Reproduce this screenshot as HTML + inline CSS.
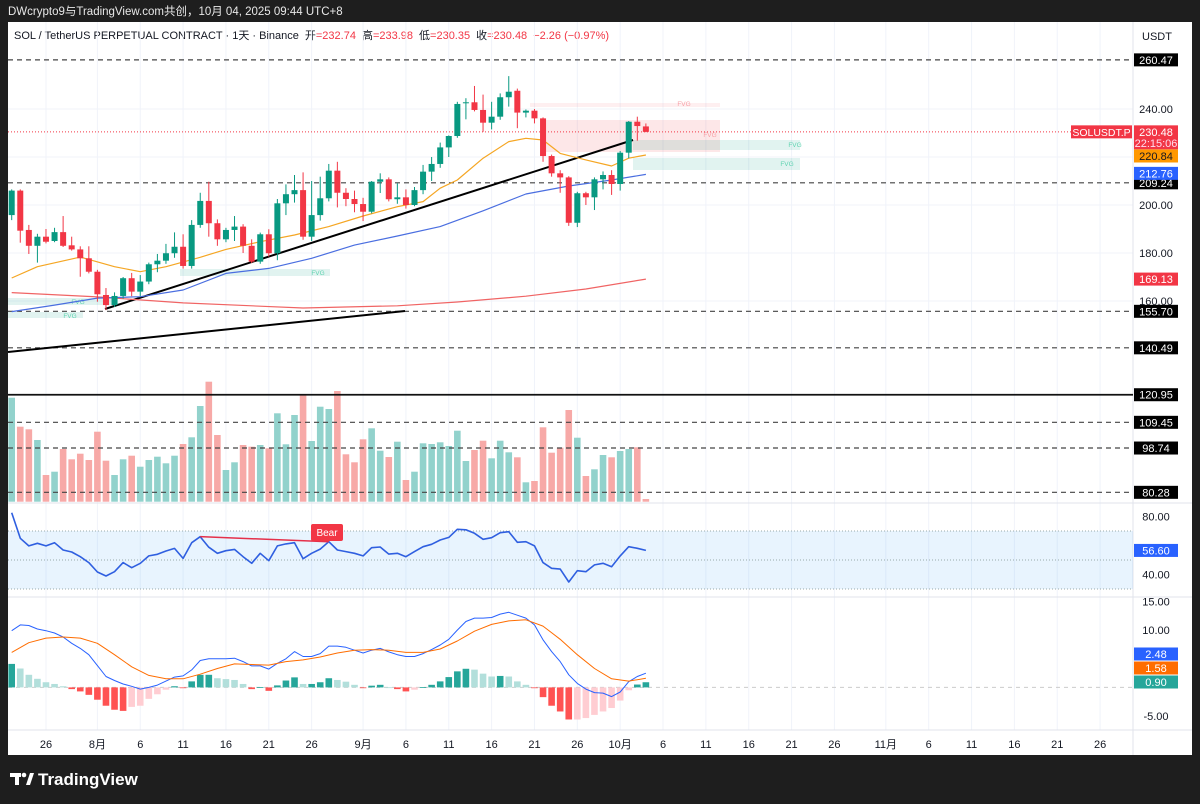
<!DOCTYPE html>
<html><head><meta charset="utf-8"><style>
html,body{margin:0;padding:0;background:#1e1e1e;}
svg{display:block;font-family:"Liberation Sans","Noto Sans CJK SC",sans-serif;}
</style></head><body>
<svg id="c" width="1200" height="804" viewBox="0 0 1200 804" xmlns="http://www.w3.org/2000/svg">
<rect x="0" y="0" width="1200" height="804" fill="#1e1e1e"/>
<rect x="8" y="22" width="1184" height="733" fill="#ffffff"/>
<text x="8" y="15" font-size="11.5" fill="#e8e8e8">DWcrypto9与TradingView.com共创，10月 04, 2025 09:44 UTC+8</text>
<text x="14" y="39" font-size="11" fill="#131722">SOL / TetherUS PERPETUAL CONTRACT · 1天 · Binance<tspan dx="6">开</tspan><tspan fill="#f23645">=232.74</tspan><tspan dx="6">高</tspan><tspan fill="#f23645">=233.98</tspan><tspan dx="6">低</tspan><tspan fill="#f23645">=230.35</tspan><tspan dx="6">收</tspan><tspan fill="#f23645">=230.48</tspan><tspan dx="6" fill="#f23645">−2.26 (−0.97%)</tspan></text>
<text x="1157" y="40" font-size="11" fill="#131722" text-anchor="middle">USDT</text>
<g id="grid"></g>
<g id="zones"></g>
<g id="vol"></g>
<g id="hlines"></g>
<g id="ma"></g>
<g id="candles"></g>
<g id="rsi"></g>
<g id="macd"></g>
<g id="axis"></g>
<rect x="0" y="755" width="1200" height="49" fill="#1e1e1e"/>
<g>
<rect x="10" y="773" width="11" height="4" fill="#fff"/>
<rect x="15" y="773" width="4" height="12" fill="#fff"/>
<circle cx="24" cy="775" r="2.3" fill="#fff"/>
<polygon points="26,785 30,773 34,773 30,785" fill="#fff"/>
<text x="38" y="785" font-size="17" font-weight="bold" fill="#ffffff">TradingView</text>
</g>
</svg>
<script>
// ---------- data ----------
const opens=[195.8,206.0,189.6,183.0,186.8,185.0,188.7,183.2,181.5,177.8,172.2,162.5,158.3,162.1,169.5,163.9,168.1,175.3,176.8,179.9,182.6,174.6,191.7,201.7,192.4,185.7,189.6,191.0,183.0,176.4,187.8,179.9,200.7,204.5,206.2,186.8,195.8,202.8,214.3,205.1,202.5,200.4,197.2,209.7,210.7,202.4,203.2,200.0,206.2,213.9,217.1,224.0,228.75,242.4,242.8,239.6,234.3,236.8,244.9,247.6,238.5,239.3,236.1,220.4,213.2,211.5,192.6,204.9,203.2,210.7,212.5,208.75,221.8,234.7,232.74];
const highs=[206.5,206.5,191.7,188.0,190.0,190.5,195.4,186.8,182.8,182.8,173.0,165.4,163.6,170.0,171.7,170.8,176.0,179.6,183.8,188.6,187.8,193.7,205.1,209.7,194.0,190.5,195.4,192.0,185.7,188.5,189.9,202.5,208.6,212.5,213.6,210.0,211.8,217.1,218.0,207.0,206.0,203.0,210.0,213.2,211.5,209.0,206.5,207.5,216.7,220.0,226.0,229.0,243.0,244.5,249.6,246.0,243.0,246.5,253.7,248.5,239.8,240.0,236.5,221.0,214.5,212.0,205.5,205.5,211.5,214.0,214.5,222.5,235.0,236.8,233.98];
const lows=[193.7,184.3,179.6,176.0,184.0,184.5,182.5,181.0,170.1,171.5,159.7,156.2,157.5,161.0,162.0,162.0,167.0,172.0,175.5,178.0,173.5,173.5,190.5,186.8,183.0,184.5,185.0,180.0,175.8,175.5,178.5,177.0,195.8,201.0,185.5,185.0,193.5,201.5,199.0,199.5,197.0,193.3,196.5,205.0,201.5,200.5,198.5,199.5,204.5,210.0,215.5,220.0,228.0,235.7,239.0,230.5,231.5,235.5,241.0,232.0,236.5,234.0,218.0,211.8,205.1,191.3,190.8,200.0,197.9,206.5,204.2,206.0,219.5,226.8,230.35];
const closes=[206.0,189.3,183.0,186.8,184.7,188.7,183.0,181.5,177.8,172.2,162.8,158.3,162.1,169.5,163.9,168.1,175.3,176.8,179.9,182.6,174.6,191.7,201.7,192.4,185.7,189.6,191.0,183.0,176.4,187.8,179.9,200.7,204.5,206.2,186.8,195.8,202.8,214.3,205.1,202.5,200.4,197.2,209.7,210.7,202.4,203.2,200.0,206.2,213.9,217.1,224.0,228.75,242.1,242.8,239.6,234.3,236.8,244.9,247.2,238.5,239.3,236.1,220.4,213.2,211.5,192.6,204.9,203.2,210.7,212.5,208.75,221.8,234.7,232.9,230.48];
const volumes=[10.4,7.5,7.24,6.17,2.67,3.0,5.27,4.24,4.8,4.17,7.0,4.1,2.67,4.24,4.6,3.5,4.17,4.5,3.84,4.6,5.77,6.44,9.57,12.0,6.67,3.17,3.94,5.67,5.5,5.67,5.34,8.84,5.74,8.67,10.74,6.07,9.5,9.27,11.07,4.74,3.94,6.24,7.34,5.1,4.47,6.0,2.17,3.0,5.84,5.77,5.94,5.57,7.1,4.07,5.17,6.1,4.34,6.1,4.94,4.44,1.94,2.07,7.44,4.9,5.4,9.17,6.4,2.57,3.24,4.67,4.44,5.07,5.27,5.44,0.27];
const emaFastIdx=[0,3,8,12,15,18,22,25,29,33,37,41,45,48,50,52,55,58,60,62,64,67,70,72,74];
const emaFastVals=[169.6,174.3,178.3,174.3,172.2,174.3,178.2,181.5,184.7,187.5,191.0,195.4,199.3,201.4,207.0,210.4,219.5,226.4,227.8,227.1,221.5,218.8,216.25,219.5,220.84];
const emaMidIdx=[0,5,10,15,20,25,30,35,40,45,50,55,60,65,70,74];
const emaMidVals=[155.6,158.3,161.2,161.8,164.6,171.5,173.6,177.8,183.3,187.1,191.0,197.6,204.6,207.9,210.4,212.76];
const emaSlowIdx=[0,10,20,34,45,52,60,67,74];
const emaSlowVals=[163.5,161.7,159.2,157.1,158.0,159.6,162.0,165.0,169.13];
const rsiVals=[82.6,65,59.7,61.5,59.7,61.9,56.9,55.5,52.3,48.2,41.7,39,41.9,48.2,44.7,47.7,52.8,53.9,56.2,58.0,51.1,61.9,66.1,58.8,54.6,56.4,57.3,52.3,47.7,54.6,49.5,59.7,61.1,61.9,50.9,54.6,57.5,62.6,56.9,55.8,54.6,52.8,58.5,59.0,54.1,54.6,52.3,55.8,59.2,60.8,63.8,65.6,71.2,70.8,68.4,64.3,65.4,68.8,69.5,62.2,62.6,59.7,48.2,44.3,43.7,34.8,42.6,41.9,46.6,47.7,45.4,52.8,59.2,58.1,56.6];
const macdVals=[9.9,10.9,10.8,10.2,9.9,9.5,8.8,7.7,6.8,5.7,3.8,1.9,1.2,0.6,0.2,-0.3,0.0,0.4,1.1,1.8,2.0,3.05,4.7,5.0,5.0,5.0,5.1,4.5,3.75,3.75,3.2,4.2,5.0,6.25,5.4,5.4,5.9,7.2,7.2,7.0,6.5,6.0,6.5,6.8,6.2,5.7,5.4,5.4,5.9,6.6,7.4,8.4,10.0,11.5,12.1,12.1,12.2,12.8,13.1,12.6,12.1,10.9,8.3,6.25,4.5,2.2,0.7,-0.3,-0.9,-1.0,-1.6,-0.8,1.0,1.9,2.48];
const signalIdx=[0,2,4,6,8,10,12,14,16,18,20,22,24,26,28,30,32,34,36,38,40,42,44,46,48,50,52,54,56,58,60,62,64,66,68,70,72,74];
const signalVals=[6.1,7.8,8.6,8.8,8.6,7.7,5.7,3.6,2.1,1.5,1.5,2.3,3.3,4.1,4.0,3.9,4.5,4.8,5.3,6.0,6.5,6.6,6.5,6.1,6.1,6.7,8.1,9.8,11.0,11.6,11.8,10.7,8.4,5.7,3.3,1.5,1.1,1.58];
const histVals=[4.1,3.3,2.2,1.5,0.9,0.6,0.2,-0.3,-0.7,-1.3,-2.15,-3.2,-3.9,-4.1,-3.4,-3.2,-2.0,-1.2,-0.4,0.2,-0.1,1.05,2.2,2.2,1.6,1.45,1.3,0.6,-0.3,0.05,-0.6,0.35,1.2,1.75,0.6,0.6,0.9,1.6,1.3,1.0,0.45,-0.1,0.3,0.45,0.02,-0.3,-0.7,-0.4,0.05,0.45,1.05,1.8,2.8,3.25,3.1,2.4,1.9,2.0,1.9,1.05,0.45,-0.1,-1.7,-3.2,-4.2,-5.6,-5.6,-5.35,-4.8,-4.2,-3.6,-2.3,-0.5,0.5,0.9];
const priceTicks=[240,220,200,180,160];
const keyLevels=[260.47,209.24,155.70,140.49,109.45,98.74,80.28];
const solidLevel=120.95;
const rsiTicks=[80,40];
const macdTicks=[15,10,-5];
const dateTicks=[[4,"26"],[10,"8月"],[15,"6"],[20,"11"],[25,"16"],[30,"21"],[35,"26"],[41,"9月"],[46,"6"],[51,"11"],[56,"16"],[61,"21"],[66,"26"],[71,"10月"],[76,"6"],[81,"11"],[86,"16"],[91,"21"],[96,"26"],[102,"11月"],[107,"6"],[112,"11"],[117,"16"],[122,"21"],[127,"26"]];

// ---------- scales ----------
const NS="http://www.w3.org/2000/svg";
const xOf=i=>11.7+8.57*i;
const yP=p=>109+(240-p)*2.4;
const yV=v=>501.7-v*10;
const yR=v=>560-(v-50)*1.45;
const yM=v=>687.4-v*5.73;
function mk(tag,attrs,parent,txt){const e=document.createElementNS(NS,tag);for(const k in attrs)e.setAttribute(k,attrs[k]);if(txt!==undefined)e.textContent=txt;parent.appendChild(e);return e;}
const G=id=>document.getElementById(id);

// grid
const grid=G('grid');
dateTicks.forEach(d=>{const x=xOf(d[0]);if(x<1133){const l=mk('line',{x1:x,x2:x,y1:22,y2:730,stroke:'#f0f3fa','stroke-width':1},grid);

}});
priceTicks.forEach(p=>{const l=mk('line',{x1:8,x2:1133,y1:yP(p),y2:yP(p),stroke:'#f0f3fa'},grid);

});
[[503],[597],[730]].forEach(a=>{const l=mk('line',{x1:8,x2:1192,y1:a[0],y2:a[0],stroke:'#e0e3eb'},grid);

});
const vs=mk('line',{x1:1133,x2:1133,y1:22,y2:755,stroke:'#e0e3eb'},grid);



// FVG zones (drawings)
const zones=G('zones');
const zoneDefs=[[530,103,190,4,'rgba(242,54,69,0.08)','#f7a0a7',684,106],[540,120,180,32,'rgba(242,54,69,0.12)','#f7a0a7',710,137],[633,140,167,10,'rgba(8,153,129,0.12)','#5fd3b0',795,147],[633,158,167,12,'rgba(8,153,129,0.12)','#5fd3b0',787,166],[180,269,150,7,'rgba(8,153,129,0.12)','#5fd3b0',318,275],[8,298,107,7,'rgba(8,153,129,0.12)','#5fd3b0',78,304],[8,312,75,6,'rgba(8,153,129,0.12)','#5fd3b0',70,318]];
zoneDefs.forEach(z=>{const r=mk('rect',{x:z[0],y:z[1],width:z[2],height:z[3],fill:z[4]},zones);


const t=mk('text',{x:z[6],y:z[7],'font-size':6.5,fill:z[5],'text-anchor':'middle'},zones,'FVG');

});

// volume
const vol=G('vol');
volumes.forEach((v,i)=>{const up=closes[i]>=opens[i];const r=mk('rect',{x:xOf(i)-3.3,y:yV(v),width:6.6,height:501.7-yV(v),fill:up?'#92d2cc':'#f7a9a7'},vol);

});

// horizontal levels
const hl=G('hlines');
keyLevels.forEach(p=>{const l=mk('line',{x1:8,x2:1133,y1:yP(p),y2:yP(p),stroke:'#444','stroke-width':1.2,'stroke-dasharray':'5,4'},hl);

});
const sl=mk('line',{x1:8,x2:1133,y1:yP(solidLevel),y2:yP(solidLevel),stroke:'#111','stroke-width':1.8},hl);


const cp=mk('line',{x1:8,x2:1133,y1:yP(closes[74]),y2:yP(closes[74]),stroke:'#f23645','stroke-width':1,'stroke-dasharray':'1,2'},hl);


const t1=mk('line',{x1:105,y1:309,x2:633,y2:140,stroke:'#000','stroke-width':2},hl);


const t2=mk('line',{x1:8,y1:352,x2:405,y2:311,stroke:'#000','stroke-width':2},hl);



// moving averages
const ma=G('ma');
function poly(idx,vals,yf,color,w,name,parent){const pts=idx.map((ix,k)=>xOf(ix).toFixed(1)+','+yf(vals[k]).toFixed(1)).join(' ');const p=mk('polyline',{points:pts,fill:'none',stroke:color,'stroke-width':w,'stroke-linejoin':'round'},parent);

return p;}
poly(emaSlowIdx,emaSlowVals,yP,'#f06464',1.2,'ma-slow-line',ma);
poly(emaMidIdx,emaMidVals,yP,'#4a6ee0',1.2,'ma-mid-line',ma);
poly(emaFastIdx,emaFastVals,yP,'#f5a623',1.2,'ma-fast-line',ma);

// candles
const cg=G('candles');
opens.forEach((o,i)=>{const c=closes[i],up=c>=o,col=up?'#089981':'#f23645';const x=xOf(i);
const w=mk('line',{x1:x,x2:x,y1:yP(highs[i]),y2:yP(lows[i]),stroke:col,'stroke-width':1},cg);


const top=yP(Math.max(o,c)),bot=yP(Math.min(o,c));
const b=mk('rect',{x:x-3,y:top,width:6,height:Math.max(1,bot-top),fill:col},cg);

});

// RSI
const rg=G('rsi');
const band=mk('rect',{x:8,y:yR(70),width:1125,height:yR(30)-yR(70),fill:'rgba(33,150,243,0.1)'},rg);


[70,50,30].forEach(v=>{const l=mk('line',{x1:8,x2:1133,y1:yR(v),y2:yR(v),stroke:'#9aa','stroke-width':1,'stroke-dasharray':'1,2'},rg);

});
poly(rsiVals.map((v,i)=>i),rsiVals,yR,'#2f5fe0',1.6,'rsi-line',rg);
const bl=mk('line',{x1:xOf(22),y1:yR(rsiVals[22]),x2:xOf(37),y2:yR(rsiVals[37]),stroke:'#e5304a','stroke-width':1.5},rg);


const bb=mk('rect',{x:311,y:524,width:32,height:17,rx:2,fill:'#f23645'},rg);


const bt=mk('text',{x:327,y:536,'font-size':10,fill:'#fff','text-anchor':'middle'},rg,'Bear');



// MACD
const mg=G('macd');
const z=mk('line',{x1:8,x2:1133,y1:yM(0),y2:yM(0),stroke:'#ccc','stroke-dasharray':'4,4'},mg);


histVals.forEach((v,i)=>{const prev=i>0?histVals[i-1]:v;let col;
if(v>=0)col=v>=prev?'#26a69a':'#b2dfdb';else col=v<prev?'#ff5252':'#ffcdd2';
const y0=yM(0),y1=yM(v);const r=mk('rect',{x:xOf(i)-3.3,y:Math.min(y0,y1),width:6.6,height:Math.max(0.8,Math.abs(y1-y0)),fill:col},mg);

});
poly(macdVals.map((v,i)=>i),macdVals,yM,'#2962ff',1,'macd-line',mg);
poly(signalIdx,signalVals,yM,'#ff6d00',1,'signal-line',mg);

// axes
const ax=G('axis');
function lab(y,t,name){const e=mk('text',{x:1156,y:y+4,'font-size':11,fill:'#131722','text-anchor':'middle'},ax,t);

}
function box(y,t,bg,fg,name,h){h=h||13;const r=mk('rect',{x:1134,y:y-6.5,width:44,height:h,fill:bg},ax);


const e=mk('text',{x:1156,y:y+4,'font-size':11,fill:fg,'text-anchor':'middle'},ax,t);

}
priceTicks.forEach(p=>lab(yP(p),p.toFixed(2),'price-tick-label'));
keyLevels.concat([solidLevel]).forEach(p=>box(yP(p),p.toFixed(2),'#000','#fff','level-price-tag'));
box(yP(closes[74]),closes[74].toFixed(2),'#f23645','#fff','last-price-tag',24);
const cd=mk('text',{x:1156,y:yP(closes[74])+15,'font-size':11,fill:'#fde',"text-anchor":'middle'},ax,'22:15:06');


const sr=mk('rect',{x:1071,y:yP(closes[74])-6.5,width:61,height:13,fill:'#f23645'},ax);


const st=mk('text',{x:1101.5,y:yP(closes[74])+4,'font-size':10.5,fill:'#fff','text-anchor':'middle'},ax,'SOLUSDT.P');


box(yP(emaFastVals[emaFastVals.length-1])+1,emaFastVals[emaFastVals.length-1].toFixed(2),'#ff9800','#131722','ma-fast-tag');
box(yP(emaMidVals[emaMidVals.length-1])-1,emaMidVals[emaMidVals.length-1].toFixed(2),'#2962ff','#fff','ma-mid-tag');
box(yP(emaSlowVals[emaSlowVals.length-1]),emaSlowVals[emaSlowVals.length-1].toFixed(2),'#f23645','#fff','ma-slow-tag');
rsiTicks.forEach(v=>lab(yR(v),v.toFixed(2),'rsi-tick-label'));
box(yR(rsiVals[74]),rsiVals[74].toFixed(2),'#2962ff','#fff','rsi-value-tag');
macdTicks.forEach(v=>lab(yM(v),v.toFixed(2),'macd-tick-label'));
box(654,macdVals[74].toFixed(2),'#2962ff','#fff','macd-value-tag');
box(668,signalVals[signalVals.length-1].toFixed(2),'#ff6d00','#fff','signal-value-tag');
box(682,histVals[74].toFixed(2),'#26a69a','#fff','histogram-value-tag');
dateTicks.forEach(d=>{const x=xOf(d[0]);if(x<1133){const e=mk('text',{x:x,y:748,'font-size':11,fill:'#131722','text-anchor':'middle'},ax,d[1]);

}});
</script>
</body></html>
